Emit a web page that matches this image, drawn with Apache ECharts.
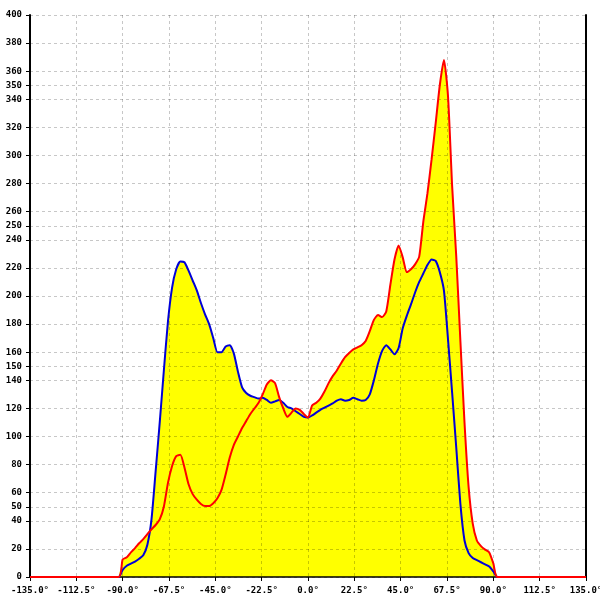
<!DOCTYPE html>
<html>
<head>
<meta charset="utf-8">
<script src="https://cdn.jsdelivr.net/npm/echarts@6/dist/echarts.min.js"></script>
<style>html,body{margin:0;padding:0;background:#fff}#c{width:600px;height:600px}</style>
</head>
<body>
<div id="c"></div>
<script>
const angles = [-135, -92,
  -90, -88, -86, -84, -82, -80, -78, -76, -74, -72, -70, -68, -66, -64, -62, -60, -58, -56, -54, -52,
  -50, -48, -46, -44, -42, -40, -38, -36, -34, -32, -30, -28, -26, -24, -22, -20, -18, -16, -14, -12,
  -10, -8, -6, -4, -2, 0, 2, 4, 6, 8, 10, 12, 14, 16, 18, 20, 22, 24, 26, 28,
  30, 32, 34, 36, 38, 40, 42, 44, 46, 48, 50, 52, 54, 56, 58, 60, 62, 64, 66, 68,
  70, 72, 74, 76, 78, 80, 82, 84, 86, 88, 90,
  92, 135];
const blueValues = [0, 0,
  5, 8, 9.5, 11, 13, 15.5, 23, 41, 75, 110, 147, 182, 206, 219, 224.5, 224, 218, 211, 204, 195,
  187, 180, 170, 160, 160, 164, 165, 159, 146, 135, 131, 129, 128, 127, 127.5, 126, 124, 125, 126, 124,
  121, 120, 118, 116, 114, 113.5, 115, 117, 119, 120.5, 122, 123.5, 125.5, 126.5, 125.5, 126, 127.5, 126.5, 125.5, 126,
  130, 140, 152, 161, 165, 162, 158.5, 163, 177, 186, 194, 202.5, 210, 216, 222, 226, 225, 217, 204, 169,
  131, 92, 52, 26, 17, 13.5, 12, 10.5, 9, 7.5, 4,
  0, 0];
const redValues = [0, 0,
  12.5, 14, 17.5, 20.5, 24, 27, 30.5, 34, 37, 41, 50, 67, 79, 86, 87, 78, 66, 59, 55, 52,
  50.5, 50.5, 52.5, 56, 62, 73, 85, 94, 100, 106, 111, 116, 120, 124, 130, 137, 140, 138, 128, 120,
  114, 117, 120, 119, 116, 113.5, 122, 124, 127, 132, 138, 143, 147, 152, 156.5, 159.5, 162, 163.5, 165, 168,
  175, 183, 186.5, 185, 189, 208, 226, 236, 227.5, 217, 219, 222.5, 228, 253, 273, 297, 323, 350, 368, 342,
  278, 228, 168, 110, 64, 38, 26, 22, 19.5, 17.5, 9.7,
  0, 0];
const yTickLabels = [0, 20, 40, 50, 60, 80, 100, 120, 140, 150, 160, 180, 200, 220, 240, 250, 260, 280, 300, 320, 340, 350, 360, 380, 400];

const blueData = angles.map((a, i) => [a, blueValues[i]]);
const redData = angles.map((a, i) => [a, redValues[i]]);

const font = {fontFamily: 'DejaVu Sans Mono', fontSize: 9, fontWeight: 'bold', color: '#000'};
const G = 'rgba(0,0,0,0.22)', T = 'rgba(0,0,0,0)';
const off = {show: false};

const chart = echarts.init(document.getElementById('c'), null, {renderer: 'canvas'});
chart.setOption({
  animation: false,
  grid: {left: 30, right: 14, top: 15, bottom: 23, containLabel: false, outerBoundsMode: 'none'},
  xAxis: [{
    type: 'value', min: -135, max: 135, interval: 22.5, z: 3,
    axisLine: off, axisTick: off, axisLabel: off,
    splitLine: {show: true, lineStyle: {color: G, type: [3, 3], width: 1}}
  }, {
    type: 'value', min: -135, max: 135, interval: 22.5, position: 'bottom', z: 3,
    axisLine: {show: true, onZero: false, lineStyle: {color: '#000', width: 1.5}},
    axisTick: {show: true, length: 4, lineStyle: {color: '#000'}},
    axisLabel: Object.assign({margin: 9, formatter: v => v.toFixed(1) + '°'}, font),
    splitLine: off
  }],
  yAxis: [{
    type: 'value', min: 0, max: 400, interval: 10, z: 3,
    axisLine: off, axisTick: off, axisLabel: off,
    splitLine: {show: true, lineStyle: {color: [G, T, G, T, G, G, G, T, G, T], type: [3, 3], width: 1}}
  }, {
    type: 'value', min: 0, max: 400, interval: 10, position: 'left', z: 3,
    axisLine: {show: true, onZero: false, lineStyle: {color: '#000', width: 2}},
    axisTick: {show: true, length: 4, customValues: yTickLabels, lineStyle: {color: '#000'}},
    axisLabel: Object.assign({margin: 8, customValues: yTickLabels,
      formatter: v => yTickLabels.indexOf(v) >= 0 ? String(v) : ''}, font),
    splitLine: off
  }, {
    type: 'value', min: 0, max: 400, position: 'right', z: 3,
    axisLine: {show: true, onZero: false, lineStyle: {color: '#000', width: 2}},
    axisTick: off, axisLabel: off, splitLine: off
  }],
  series: [
    {type: 'line', data: blueData, symbol: 'none', lineStyle: {width: 0}, areaStyle: {color: '#ffff00', opacity: 1}, z: 2, silent: true},
    {type: 'line', data: redData, symbol: 'none', lineStyle: {width: 0}, areaStyle: {color: '#ffff00', opacity: 1}, z: 2, silent: true},
    {type: 'line', data: blueData, symbol: 'none', smooth: 0.2, lineStyle: {width: 2, color: '#0000d8'}, z: 4},
    {type: 'line', data: redData, symbol: 'none', smooth: 0.2, lineStyle: {width: 2, color: '#ff0000'}, z: 5}
  ]
});
</script>
</body>
</html>
